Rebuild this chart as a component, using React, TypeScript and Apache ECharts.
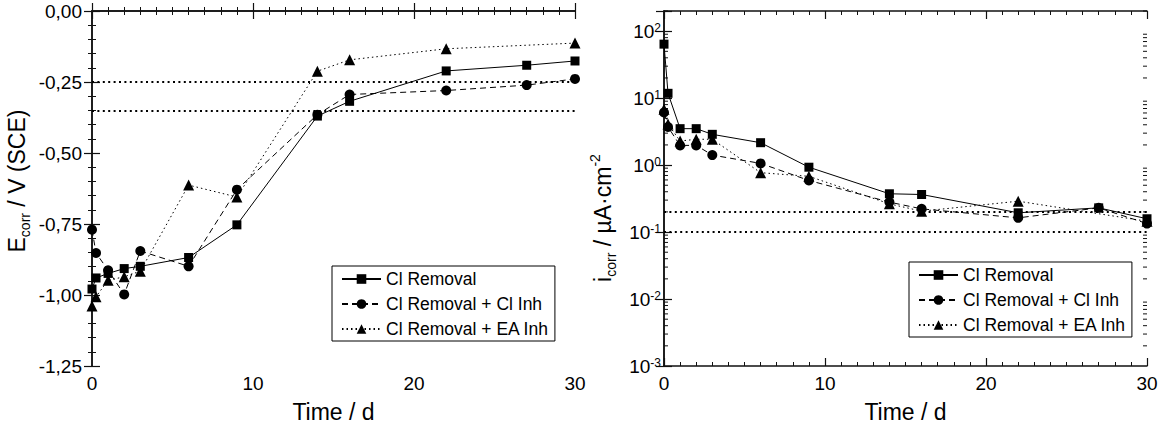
import React, { useEffect, useRef } from "react";
import * as echarts from "echarts";

const FONT = "'Liberation Sans', Arial, sans-serif";

const times = [0, 0.25, 1, 2, 3, 6, 9, 14, 16, 22, 27, 30];
const seriesNames = ["Cl Removal", "Cl Removal + Cl Inh", "Cl Removal + EA Inh"];

// Left panel: Ecorr / V (SCE)
const ecorrClRemoval = [-0.979, -0.94, -0.924, -0.907, -0.899, -0.868, -0.753, -0.37, -0.318, -0.211, -0.191, -0.176];
const ecorrClInh = [-0.77, -0.852, -0.913, -0.998, -0.845, -0.899, -0.629, -0.365, -0.294, -0.28, -0.261, -0.239];
const ecorrEAInh = [-1.039, -1.006, -0.948, -0.936, -0.916, -0.613, -0.655, -0.212, -0.172, -0.133, null, -0.113];
const ecorrLimits = [-0.25, -0.35];

// Right panel: icorr / µA·cm-2
const icorrClRemoval = [64, 11.8, 3.5, 3.5, 2.88, 2.16, 0.93, 0.373, 0.364, 0.194, 0.23, 0.158];
const icorrClInh = [6.1, 3.7, 1.97, 1.97, 1.41, 1.06, 0.59, 0.28, 0.222, 0.163, 0.23, 0.134];
const icorrEAInh = [6.8, 4.1, 2.29, 2.43, 2.43, 0.77, 0.68, 0.264, 0.205, 0.289, null, 0.145];
const icorrLimits = [0.2, 0.1];

// log-axis minor tick positions (multipliers per decade)
const logDecades = [0.001, 0.01, 0.1, 1, 10, 100];
const logMinorMultipliers = [2, 3, 4, 5, 6, 7, 8, 9];
const logMax = 200;

const lineTypes: any[] = ["solid", [6, 4], [1.5, 3]];
const symbols = ["rect", "circle", "triangle"];
const symbolSizes = [9, 10, 11];

export default function App() {
  const ref = useRef<HTMLDivElement>(null);
  useEffect(() => {
    if (!ref.current) return;
    const chart = echarts.init(ref.current, null, { renderer: "svg" });

    const axisLine = { show: true, lineStyle: { color: "#111", width: 1.5 } };
    const tick = { show: true, inside: true, length: 8, lineStyle: { color: "#111", width: 1.2 } };
    const mkX = (grid: number, pos: "bottom" | "top", withLabel: boolean) => ({
      type: "value",
      gridIndex: grid,
      position: pos,
      min: 0,
      max: 30,
      interval: 10,
      axisLine,
      axisTick: tick,
      minorTick: { show: true, splitNumber: 10, length: 4, lineStyle: { color: "#111", width: 1 } },
      splitLine: { show: false },
      axisLabel: withLabel
        ? { show: true, fontSize: 19, color: "#000", fontFamily: FONT, margin: 8 }
        : { show: false },
      name: withLabel ? "Time / d" : "",
      nameLocation: "middle",
      nameGap: 34,
      nameTextStyle: { fontSize: 23, color: "#000", fontFamily: FONT },
    });
    const mkYLin = (pos: "left" | "right", withLabel: boolean) => ({
      type: "value",
      gridIndex: 0,
      position: pos,
      min: -1.25,
      max: 0,
      interval: 0.25,
      axisLine,
      axisTick: tick,
      minorTick: { show: true, splitNumber: 5, length: 4, lineStyle: { color: "#111", width: 1 } },
      splitLine: { show: false },
      axisLabel: withLabel
        ? {
            show: true,
            fontSize: 19,
            color: "#000",
            fontFamily: FONT,
            margin: 10,
            formatter: (v: number) => (Math.abs(v) < 1e-9 ? 0 : v).toFixed(2).replace(".", ","),
          }
        : { show: false },
    });
    const mkYLog = (pos: "left" | "right", withLabel: boolean) => ({
      type: "log",
      logBase: 10,
      gridIndex: 1,
      position: pos,
      min: 0.001,
      max: logMax,
      axisLine,
      axisTick: tick,
      minorTick: { show: false },
      splitLine: { show: false },
      axisLabel: withLabel
        ? {
            show: true,
            color: "#000",
            fontFamily: FONT,
            margin: 3,
            formatter: (v: number) => {
              const e = Math.log10(v);
              if (Math.abs(e - Math.round(e)) > 1e-6) return "";
              return `{b|10}{s|${Math.round(e)}}`;
            },
            rich: {
              b: { fontSize: 19, lineHeight: 19, verticalAlign: "top", color: "#000", fontFamily: FONT },
              s: { fontSize: 12, lineHeight: 9, verticalAlign: "top", color: "#000", fontFamily: FONT },
            },
          }
        : { show: false },
    });

    const mkSeries = (i: number, data: (number | null)[], xi: number, yi: number, limits: number[]) => {
      const s: any = {
        name: seriesNames[i],
        type: "line",
        xAxisIndex: xi,
        yAxisIndex: yi,
        data: times.map((t, k) => [t, data[k]]),
        symbol: symbols[i],
        symbolSize: symbolSizes[i],
        connectNulls: true,
        lineStyle: { color: "#000", width: 1, type: lineTypes[i] },
        itemStyle: { color: "#000" },
        z: 10 - i,
      };
      if (i === 0) {
        s.markLine = {
          silent: true,
          symbol: ["none", "none"],
          label: { show: false },
          lineStyle: { color: "#000", width: 2, type: [2, 3.4] },
          data: limits.map((v) => ({ yAxis: v })),
        };
      }
      return s;
    };

    const minorLogTicks: number[][] = [];
    logDecades.forEach((d) =>
      logMinorMultipliers.forEach((m) => {
        const v = d * m;
        if (v <= logMax + 1e-9) minorLogTicks.push([0, v]);
      })
    );

    const legendBase = {
      orient: "vertical",
      data: seriesNames,
      itemWidth: 39,
      itemHeight: 12,
      itemGap: 5,
      padding: [3, 6, 2, 9],
      borderColor: "#000",
      borderWidth: 1,
      selectedMode: false,
      textStyle: { fontSize: 17.5, color: "#000", lineHeight: 20, fontFamily: FONT },
    };

    const titleRich = {
      a: { fontSize: 23, lineHeight: 30, verticalAlign: "middle", fill: "#000", fontFamily: FONT },
      b: { fontSize: 14, lineHeight: 14, verticalAlign: "bottom", fill: "#000", fontFamily: FONT },
      s: { fontSize: 14, lineHeight: 14, verticalAlign: "top", fill: "#000", fontFamily: FONT },
    };

    const option: any = {
      animation: false,
      backgroundColor: "#fff",
      textStyle: { fontFamily: FONT },
      grid: [
        { left: 92, top: 11, width: 483, height: 357 },
        { left: 664, top: 11, width: 483, height: 357 },
      ],
      xAxis: [mkX(0, "bottom", true), mkX(0, "top", false), mkX(1, "bottom", true), mkX(1, "top", false)],
      yAxis: [mkYLin("left", true), mkYLin("right", false), mkYLog("left", true), mkYLog("right", false)],
      legend: [
        { ...legendBase, left: 332, top: 266 },
        { ...legendBase, left: 909, top: 262 },
      ],
      series: [
        mkSeries(0, ecorrClRemoval, 0, 0, ecorrLimits),
        mkSeries(1, ecorrClInh, 0, 0, ecorrLimits),
        mkSeries(2, ecorrEAInh, 0, 0, ecorrLimits),
        mkSeries(0, icorrClRemoval, 2, 2, icorrLimits),
        mkSeries(1, icorrClInh, 2, 2, icorrLimits),
        mkSeries(2, icorrEAInh, 2, 2, icorrLimits),
        {
          type: "custom",
          name: "logMinorTicks",
          xAxisIndex: 2,
          yAxisIndex: 2,
          silent: true,
          clip: false,
          data: minorLogTicks,
          encode: { x: 0, y: 1 },
          renderItem: (params: any, api: any) => {
            const v = api.value(1);
            const l = api.coord([0, v]);
            const r = api.coord([30, v]);
            const st = { stroke: "#111", lineWidth: 1 };
            return {
              type: "group",
              children: [
                { type: "line", shape: { x1: l[0], y1: l[1], x2: l[0] + 4, y2: l[1] }, style: st },
                { type: "line", shape: { x1: r[0], y1: r[1], x2: r[0] - 4, y2: r[1] }, style: st },
              ],
            };
          },
        },
      ],
      graphic: [
        {
          type: "text",
          x: 17,
          y: 181,
          rotation: Math.PI / 2,
          style: {
            text: "{a|E}{b|corr}{a| / V (SCE)}",
            align: "center",
            verticalAlign: "middle",
            rich: titleRich,
          },
        },
        {
          type: "text",
          x: 603,
          y: 218,
          rotation: Math.PI / 2,
          style: {
            text: "{a|i}{b|corr}{a| / µA·cm}{s|-2}",
            align: "center",
            verticalAlign: "middle",
            rich: titleRich,
          },
        },
      ],
    };
    chart.setOption(option);
    return () => chart.dispose();
  }, []);
  return (
    <div
      ref={ref}
      style={{ position: "fixed", left: 0, top: 0, width: 1161, height: 428, background: "#fff" }}
    />
  );
}
